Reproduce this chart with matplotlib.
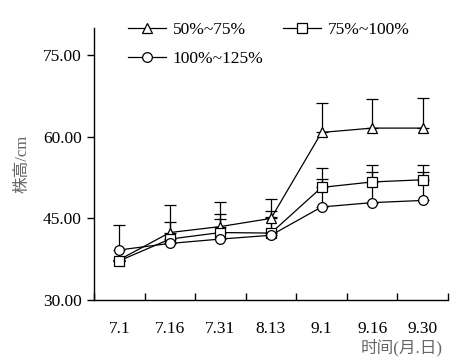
import matplotlib
matplotlib.use("Agg")
import matplotlib.pyplot as plt
import numpy as np

dates = ["7.1", "7.16", "7.31", "8.13", "9.1", "9.16", "9.30"]
labels = ["50%~75%", "75%~100%", "100%~125%"]
s1 = [37.4, 42.4, 43.5, 45.0, 60.8, 61.6, 61.6]
s2 = [37.2, 41.2, 42.4, 42.3, 50.7, 51.7, 52.1]
s3 = [39.2, 40.4, 41.2, 41.9, 47.1, 47.9, 48.3]
e1 = [0.0, 5.0, 4.6, 3.5, 5.5, 5.3, 5.5]
e2 = [0.0, 3.1, 3.4, 4.0, 3.5, 3.2, 2.8]
e3 = [4.5, 0.0, 3.7, 3.3, 5.1, 5.7, 5.3]
yticks = [30, 45, 60, 75]

plt.rcParams['font.family'] = ['Liberation Serif', 'Noto Sans CJK SC']
fig = plt.figure(figsize=(4.62, 3.6), dpi=100)
ax = fig.add_axes([94/462, 60/360, 354/462, 272/360])

x = np.arange(len(dates))
markers = ['^', 's', 'o']
sizes = [7.5, 6.5, 7]
handles = []
for vals, errs, m, ms, lab in zip([s1, s2, s3], [e1, e2, e3], markers, sizes, labels):
    ax.errorbar(x, vals, yerr=[np.zeros(len(errs)), errs], fmt='none',
                ecolor='black', elinewidth=0.9, capsize=4.3, capthick=0.9, zorder=2)
    h, = ax.plot(x, vals, color='black', lw=0.9, marker=m, ms=ms,
                 mfc='white', mec='black', mew=0.9, label=lab, zorder=3)
    handles.append(h)

ax.set_xlim(-0.5, len(dates) - 0.5)
ax.set_ylim(30, 80)
ax.set_yticks(yticks)
ax.set_yticklabels([f"{v:.2f}" for v in yticks], fontsize=12.5)
ax.set_xticks(x)
ax.set_xticklabels(dates, fontsize=12.5)
ax.tick_params(axis='x', which='major', length=0, pad=15)
ax.set_xticks(np.arange(len(dates) + 1) - 0.5, minor=True)
ax.tick_params(axis='x', which='minor', direction='in', length=5, width=1)
ax.tick_params(axis='y', direction='out', length=5, width=1, pad=4)
for s in ['top', 'right']:
    ax.spines[s].set_visible(False)
for s in ['left', 'bottom']:
    ax.spines[s].set_linewidth(1.0)

ax.set_ylabel("株高/cm", fontsize=12, color='#666666', labelpad=9)
fig.text(443/462, 1 - 348/360, "时间(月.日)", fontsize=12, color='#666666',
         ha='right', va='center')

order = [handles[0], handles[2], handles[1]]
leg = fig.legend(handles=order, loc='upper left', bbox_to_anchor=(112/462, 1 - 6/360),
                 ncol=2, frameon=False, fontsize=12.5, handlelength=2.2,
                 columnspacing=1.1, handletextpad=0.4, labelspacing=0.75)

fig.savefig("out.png", dpi=100)
